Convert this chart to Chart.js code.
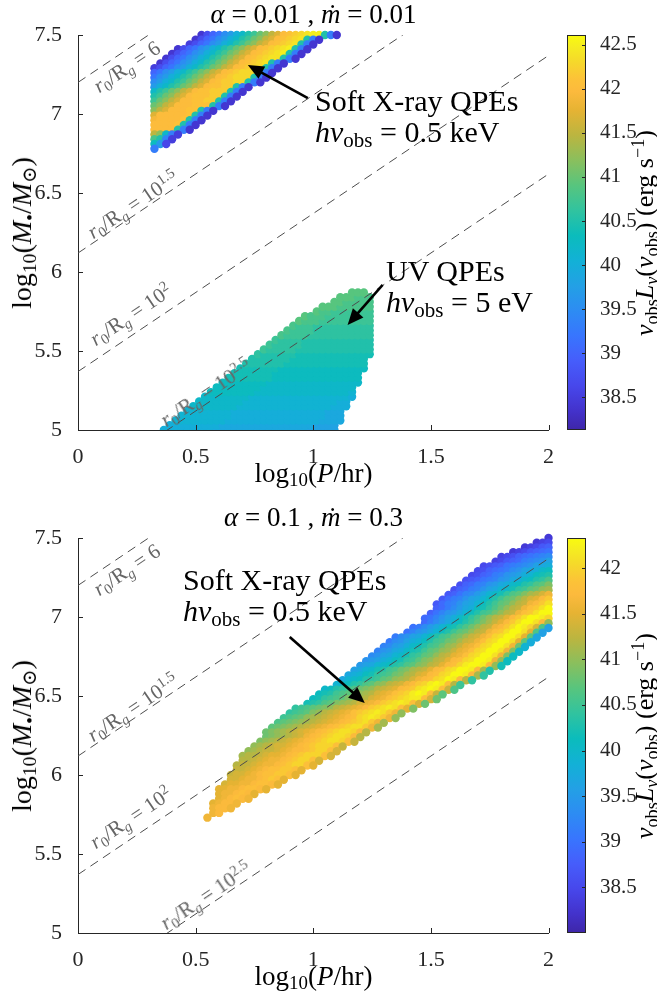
<!DOCTYPE html>
<html><head><meta charset="utf-8"><title>QPE luminosity maps</title>
<script src="https://cdn.jsdelivr.net/npm/chart.js@4.4.1/dist/chart.umd.min.js"></script>
<style>
html,body{margin:0;padding:0;background:#fff}
#wrap{position:relative;width:657px;height:1004px;overflow:hidden;font-family:"Liberation Serif","DejaVu Serif",serif;color:#262626}
#wrap canvas{position:absolute}
.tx{position:absolute;white-space:nowrap;line-height:1}
.tx sub{font-size:70%;vertical-align:-0.25em;line-height:0}
.tx sup{font-size:70%;vertical-align:0.5em;line-height:0}
.ann{font-size:30px;line-height:31px;color:#000}
.ttl{font-size:27px;color:#000}
.axl{font-size:27px;color:#000}
.ayl{font-size:28px;color:#000}
.cbl{font-size:26px;color:#000}
.rl{font-size:21px;color:#666}
</style></head>
<body><div id="wrap">
<canvas id="m1" width="560" height="500" style="left:0;top:0;width:560px;height:500px"></canvas>
<canvas id="c1" width="97" height="500" style="left:560px;top:0;width:97px;height:500px"></canvas>
<canvas id="m2" width="560" height="500" style="left:0;top:503px;width:560px;height:500px"></canvas>
<canvas id="c2" width="97" height="500" style="left:560px;top:503px;width:97px;height:500px"></canvas>
</div>
<script>
// ================= DATA =================
const xTickValues = [0, 0.5, 1, 1.5, 2];
const xTickLabels = ['0', '0.5', '1', '1.5', '2'];
const yTickValues = [5, 5.5, 6, 6.5, 7, 7.5];
const yTickLabels = ['5', '5.5', '6', '6.5', '7', '7.5'];
const cbTopTickValues = [38.5, 39, 39.5, 40, 40.5, 41, 41.5, 42, 42.5];
const cbTopTickLabels = ['38.5', '39', '39.5', '40', '40.5', '41', '41.5', '42', '42.5'];
const cbBotTickValues = [38.5, 39, 39.5, 40, 40.5, 41, 41.5, 42];
const cbBotTickLabels = ['38.5', '39', '39.5', '40', '40.5', '41', '41.5', '42'];
const cbTopRange = [38.13, 42.61];
const cbBotRange = [38.0, 42.33];
const panelTitles = ['<i>α</i> = 0.01 , <i>ṁ</i> = 0.01', '<i>α</i> = 0.1 , <i>ṁ</i> = 0.3'];

// constant r0/Rg lines: log M = log P + intercept
const rLineNames = ['6', '10^1.5', '10^2', '10^2.5'];
const rLineIntercepts = [7.20, 6.12, 5.37, 4.62];

// luminosity code: character index i -> log(nu L_nu) = 38 + 0.1*i
const LUM_CODES = '0123456789ABCDEFGHIJKLMNOPQRSTUVWXYZabcdefghijklmnopqrstuvwxyz';
const GRID_STEP_P = 0.025;   // spacing of model points along log P within a row

// --- top panel (alpha=0.01, mdot=0.01): soft X-ray QPEs ---
const xrayTopLogM = [7.50,7.47,7.44,7.41,7.38,7.35,7.32,7.29,7.26,7.23,7.20,7.17,7.14,7.11,7.08,7.05,7.02,6.99,6.96,6.93,6.90,6.87,6.84,6.81,6.78];
const xrayTopStartP = [0.525,0.500,0.475,0.425,0.400,0.375,0.350,0.325,0.325,0.325,0.325,0.325,0.325,0.325,0.325,0.325,0.325,0.325,0.325,0.325,0.325,0.325,0.325,0.325,0.325];
const xrayTopLum = [
  '47ACFHKMPRUWZbefghijjPD4',
  '47ACFHKMPRUWZbefghiPD4',
  '57ACFHKMPRUWZbefghiPD4',
  '47ACFHKMPRUWZbefghijPD4',
  '47ACFHKMPRUWZbefghijPD4',
  '47ACFHKMPRUWZbefghiiPD4',
  '47ACFHKMPRUWZbefghiPD4',
  '57ACFHKMPRUWZbefghhPD4',
  'ACFHKMPRUWZbefghhhPD4',
  'CFHKMPRUWZbefghhhPD4',
  'FHKMPRUWZbefgghhPD4',
  'HKMPRUWZbeffggPD4',
  'MPRUWZbeffgggPD4',
  'PRUWZbefffggPD4',
  'RUWZbeeffggPD4',
  'UWZbeeefffPD4',
  'WZbeeeffPD4',
  'beeeeefPD4',
  'deeeefPD4',
  'eeeefPD4',
  'eeeePD4',
  'ZWMD5',
  'SPE5',
  'NH6',
  'D'
];

// --- top panel: UV QPEs ---
const uvLogM = [5.00,5.03,5.06,5.09,5.12,5.15,5.18,5.21,5.24,5.27,5.30,5.33,5.36,5.39,5.42,5.45,5.48,5.51,5.54,5.57,5.60,5.63,5.66,5.69,5.72,5.75,5.78,5.81,5.84,5.87];
const uvStartP = [0.365,0.390,0.415,0.440,0.465,0.490,0.515,0.540,0.565,0.590,0.615,0.640,0.665,0.690,0.715,0.740,0.765,0.790,0.815,0.840,0.865,0.890,0.915,0.940,0.965,1.015,1.040,1.090,1.115,1.165];
const uvLum = [
  'KKKKKKKKKJJJJJJJJJJJJJJJJIIIII',
  'KKKKKKKKKJJJJJJJJJJJJJJJJIIII',
  'LLLLLLLLLKKKKKKKKKKKKKKKKJJJJ',
  'LLLLLLLLLKKKKKKKKKKKKKKKKJJJ',
  'LLLLLLLLKKKKKKKKKKKKKKKKJJJ',
  'MMMMMMMMLLLLLLLLLLLLLLLLKKK',
  'MMMMMMMMLLLLLLLLLLLLLLLLKK',
  'MMMMMMMMLLLLLLLLLLLLLLLLLK',
  'NNNNNNNNMMMMMMMMMMMMMMMML',
  'NNNNNNNNMMMMMMMMMMMMMMMM',
  'NNNNNNNNMMMMMMMMMMMMMMMM',
  'OOOOOOOONNNNNNNNNNNNNNN',
  'OOOOOOONNNNNNNNNNNNNNN',
  'OOOOOOONNNNNNNNNNNNNNN',
  'PPPPPPPOOOOOOOOOOOOOO',
  'PPPPPPPOOOOOOOOOOOOO',
  'QPPPPPPOOOOOOOOOOOOO',
  'RQQQQQPPPPPPPPPPPPP',
  'RQQQQQPPPPPPPPPPPP',
  'RQQQQPPPPPPPPPPPP',
  'SRRRRQQQQQQQQQQQ',
  'SRRRRQQQQQQQQQQ',
  'SRRRQQQQQQQQQQ',
  'TSSSRRRRRRRRR',
  'TSSSRRRRRRRR',
  'TSSRRRRRRR',
  'TTTSSSSSS',
  'TTSSSSS',
  'TTTSSS',
  'TTT'
];

// --- bottom panel (alpha=0.1, mdot=0.3): soft X-ray QPEs ---
const xrayBotLogM = [7.50,7.47,7.44,7.41,7.38,7.35,7.32,7.29,7.26,7.23,7.20,7.17,7.14,7.11,7.08,7.05,7.02,6.99,6.96,6.93,6.90,6.87,6.84,6.81,6.78,6.75,6.72,6.69,6.66,6.63,6.60,6.57,6.54,6.51,6.48,6.45,6.42,6.39,6.36,6.33,6.30,6.27,6.24,6.21,6.18,6.15,6.12,6.09,6.06,6.03,6.00,5.97,5.94,5.91,5.88,5.85,5.82,5.79,5.76,5.73];
const xrayBotStartP = [2.000,1.950,1.900,1.850,1.800,1.775,1.725,1.700,1.675,1.650,1.625,1.600,1.575,1.550,1.525,1.525,1.500,1.475,1.475,1.425,1.400,1.350,1.325,1.300,1.275,1.250,1.225,1.200,1.175,1.150,1.125,1.100,1.050,1.025,1.000,0.975,0.925,0.900,0.875,0.850,0.825,0.800,0.800,0.775,0.750,0.725,0.700,0.700,0.675,0.675,0.650,0.650,0.625,0.600,0.600,0.600,0.575,0.575,0.575,0.550];
const xrayBotLum = [
  '3',
  '345',
  '34578',
  '345789A',
  '45689ABCD',
  '45789BCDEG',
  '5678ABCDEGHI',
  '5689ABDEGHIKL',
  '5689BCEFGIJLMN',
  '678ABCEFHIKLNOQ',
  '689BCEFHIKLNOQRT',
  '689BCEGHJKMOPRSUV',
  '78ACDFHJKMOQRTVWYa',
  '79BCEGHJLNPRSUWYZbd',
  '79BCEGHJLNPRSUWXabdf',
  '89BDFHILMOQSUWXacdfh',
  '8ACEFHJLNPQSUWXacdfhh',
  '9ACEGIKMOQSUWXZbdfhhge',
  '9BDFHJLNPRTVXZbdfhhfbU',
  'ABDFHJLMOQSUWXabdfhgeYQG',
  'ACEFHJLNPRSUWXacdfhhfZQG',
  'BDEGHJLNPQSTVXYacefhhfZRH',
  'BDEGIJLNPQSTVXYacefhhfZRI',
  'CDFGIKLNPQSUVXZacefhhfaSJ',
  'CEFHIKMNPRSUVXZacefhhfaTK',
  'DEGHJKMOPRSUWXZacefhhfaTL',
  'EFGIJLMOPRTUWXZbcefhhgaUL',
  'FGHJKLNOQRTUWXZbceghhgbUM',
  'GHJKMNPQSTVWXZbcefhhgbVN',
  'HIJLMOPQSTVWYZbcefhhgbVO',
  'HJKLNOPRSUVWYabcefhgbWO',
  'JKLNOQRTUWXYabdeghgcWP',
  'KLNOPQSTUWXYZbcdfghgcXQ',
  'LMNPQRSUVWYZacdeghgcXR',
  'LMOPQRTUVWYZacdefggcYS',
  'MNOQRTUVWYZabdefgfcYS',
  'OPQRSTUWXYZabdefgfcZT',
  'OPQRTUWXYZacdefgfdaU',
  'PQRSUVWXYZabcefgfdaU',
  'QRSTUVWXYZabcdefdaV',
  'RSTUVWXYZabcdeffdaV',
  'STUVWXYZabcdeffebW',
  'STUVWXYabcdeffebW',
  'TUVWXYZabcdeffecX',
  'UVWXYYZabcdeeecX',
  'UVWXXYZabbcdeecY',
  'VWWXYZZabcdeeecY',
  'WWXYZaabcdeecY',
  'WXXYZaabcdeecZ',
  'XXYZabccddcZ',
  'XYYZabccddcZ',
  'YYZaabcdcZ',
  'YZZaabccbZ',
  'ZZaabccbZ',
  'ZaabcbZ',
  'Zabcba',
  'Zabba',
  'abba',
  'ab',
  'a'
];

// ================= LAYOUT / STYLE =================
const FONT = '"Liberation Serif", "DejaVu Serif", serif';
const AXIS_COLOR = '#262626';
const PANEL_OFFSET = 503;
// annotation arrows in data coords [tailP, tailM, headP, headM]
const arrowsTop = [[0.977, 7.101, 0.722, 7.31], [1.295, 5.918, 1.146, 5.665]];
const arrowsBot = [[0.90, 6.873, 1.219, 6.456]];
// centre of each r0/Rg label in data coords
const rLabelPos = [[0.208, 7.30], [0.233, 6.424], [0.225, 5.728], [0.543, 5.234]];

// parula colormap stops
const PARULA = [
  [0.000, [62, 38, 168]], [0.048, [67, 50, 203]], [0.111, [71, 71, 235]], [0.175, [70, 93, 251]],
  [0.238, [56, 117, 254]], [0.302, [45, 140, 243]], [0.365, [35, 160, 229]], [0.429, [18, 177, 214]],
  [0.492, [11, 188, 188]], [0.556, [49, 195, 159]], [0.619, [87, 197, 126]], [0.683, [138, 191, 93]],
  [0.746, [187, 181, 64]], [0.810, [230, 179, 51]], [0.857, [252, 186, 61]], [0.889, [252, 194, 56]],
  [0.937, [245, 219, 41]], [0.968, [245, 235, 33]], [1.000, [249, 251, 14]]
];
function cmapColor(L, lo, hi) {
  let t = (L - lo) / (hi - lo);
  t = Math.max(0, Math.min(1, t));
  for (let i = 1; i < PARULA.length; i++) {
    if (t <= PARULA[i][0]) {
      const [t0, c0] = PARULA[i - 1], [t1, c1] = PARULA[i];
      const f = (t - t0) / (t1 - t0);
      return 'rgb(' + [0, 1, 2].map(k => Math.round(c0[k] + (c1[k] - c0[k]) * f)).join(',') + ')';
    }
  }
  return 'rgb(249,251,14)';
}

function expandRows(ms, p0s, codes) {
  const pts = [];
  ms.forEach((m, i) => {
    const s = codes[i];
    for (let k = 0; k < s.length; k++) {
      pts.push({ x: +(p0s[i] + k * GRID_STEP_P).toFixed(4), y: m, L: 38 + 0.1 * LUM_CODES.indexOf(s[k]) });
    }
  });
  return pts;
}

function scatterDataset(pts, range) {
  return {
    type: 'scatter', data: pts,
    pointRadius: 4.2, pointHoverRadius: 4.2, pointBorderWidth: 0, borderWidth: 0,
    pointBackgroundColor: c => (c.raw ? cmapColor(c.raw.L, range[0], range[1]) : '#000'),
    pointBorderColor: 'rgba(0,0,0,0)',
    clip: { left: 0, top: 5, right: 5, bottom: 0 }
  };
}
function lineDatasets() {
  return rLineIntercepts.map(c => ({
    type: 'line', data: [{ x: 0, y: c }, { x: 2, y: c + 2 }],
    borderColor: '#4d4d4d', borderWidth: 1, borderDash: [9, 6],
    pointRadius: 0, fill: false, tension: 0, clip: 0
  }));
}

const axisDecor = {
  id: 'axisDecor',
  afterDraw(chart) {
    const { ctx, chartArea: a, scales: { x, y } } = chart;
    ctx.save();
    ctx.strokeStyle = AXIS_COLOR; ctx.lineWidth = 1;
    ctx.beginPath();
    xTickValues.forEach(v => { const px = Math.round(x.getPixelForValue(v)) + 0.5; ctx.moveTo(px, a.bottom); ctx.lineTo(px, a.bottom - 5); });
    yTickValues.forEach(v => { const py = Math.round(y.getPixelForValue(v)) + 0.5; ctx.moveTo(a.left, py); ctx.lineTo(a.left + 5, py); });
    ctx.stroke();
    ctx.restore();
  }
};
function arrowPlugin(arrows) {
  return {
    id: 'arrows',
    afterDatasetsDraw(chart) {
      const { ctx, scales: { x, y } } = chart;
      ctx.save();
      ctx.strokeStyle = '#000'; ctx.fillStyle = '#000'; ctx.lineWidth = 2.6; ctx.lineCap = 'butt';
      arrows.forEach(a => {
        const x0 = x.getPixelForValue(a[0]), y0 = y.getPixelForValue(a[1]);
        const x1 = x.getPixelForValue(a[2]), y1 = y.getPixelForValue(a[3]);
        const ang = Math.atan2(y1 - y0, x1 - x0), hl = 16, hw = 7;
        const bx = x1 - hl * Math.cos(ang), by = y1 - hl * Math.sin(ang);
        ctx.beginPath(); ctx.moveTo(x0, y0); ctx.lineTo(bx + 2 * Math.cos(ang), by + 2 * Math.sin(ang)); ctx.stroke();
        ctx.beginPath();
        ctx.moveTo(x1, y1);
        ctx.lineTo(bx + hw * Math.sin(ang), by - hw * Math.cos(ang));
        ctx.lineTo(bx - hw * Math.sin(ang), by + hw * Math.cos(ang));
        ctx.closePath(); ctx.fill();
      });
      ctx.restore();
    }
  };
}

function makeMain(id, scatterSets, arrows) {
  const tickFont = { family: FONT, size: 22 };
  return new Chart(document.getElementById(id), {
    data: { datasets: [...lineDatasets(), ...scatterSets] },
    options: {
      responsive: false, animation: false, events: [],
      layout: { padding: { top: 35, right: 11, left: 0, bottom: 0 } },
      plugins: { legend: { display: false }, tooltip: { enabled: false } },
      scales: {
        x: {
          type: 'linear', min: 0, max: 2,
          afterBuildTicks: s => { s.ticks = xTickValues.map(v => ({ value: v })); },
          afterFit: s => { s.height = 70; },
          ticks: { font: tickFont, color: AXIS_COLOR, padding: 6, maxRotation: 0, autoSkip: false, callback: (v, i) => xTickLabels[i] },
          grid: { display: false }, border: { display: true, color: AXIS_COLOR, width: 1 }
        },
        y: {
          type: 'linear', min: 5, max: 7.5,
          afterBuildTicks: s => { s.ticks = yTickValues.map(v => ({ value: v })); },
          afterFit: s => { s.width = 78; },
          ticks: { font: tickFont, color: AXIS_COLOR, padding: 8, autoSkip: false, callback: (v, i) => yTickLabels[i] },
          grid: { display: false }, border: { display: true, color: AXIS_COLOR, width: 1 }
        }
      }
    },
    plugins: [axisDecor, arrowPlugin(arrows)]
  });
}

function makeColorbar(id, range, tickVals, tickLabels) {
  const frame = {
    id: 'cbFrame',
    afterDraw(chart) {
      const { ctx, chartArea: a, scales: { y } } = chart;
      ctx.save();
      ctx.strokeStyle = AXIS_COLOR; ctx.lineWidth = 1;
      ctx.strokeRect(a.left + 0.5, a.top + 0.5, a.right - a.left - 1, a.bottom - a.top - 1);
      ctx.beginPath();
      tickVals.forEach(v => { const py = Math.round(y.getPixelForValue(v)) + 0.5; ctx.moveTo(a.right, py); ctx.lineTo(a.right - 4, py); });
      ctx.stroke();
      ctx.restore();
    }
  };
  return new Chart(document.getElementById(id), {
    type: 'bar',
    data: {
      labels: ['cb'],
      datasets: [{
        data: [[range[0], range[1]]],
        backgroundColor: c => {
          const ch = c.chart, a = ch.chartArea;
          if (!a) return '#888';
          const g = ch.ctx.createLinearGradient(0, a.bottom, 0, a.top);
          PARULA.forEach(([t, col]) => g.addColorStop(t, 'rgb(' + col.join(',') + ')'));
          return g;
        },
        borderWidth: 0, barPercentage: 1, categoryPercentage: 1
      }]
    },
    options: {
      responsive: false, animation: false, events: [],
      layout: { padding: { top: 35, bottom: 70, left: 7, right: 0 } },
      plugins: { legend: { display: false }, tooltip: { enabled: false } },
      scales: {
        x: { display: false },
        y: {
          position: 'right', min: range[0], max: range[1],
          afterBuildTicks: s => { s.ticks = tickVals.map(v => ({ value: v })); },
          afterFit: s => { s.width = 71; },
          ticks: { font: { family: FONT, size: 21 }, color: AXIS_COLOR, padding: 6, autoSkip: false, callback: (v, i) => tickLabels[i] },
          grid: { display: false }, border: { display: false }
        }
      }
    },
    plugins: [frame]
  });
}

// ---------- text helpers ----------
const wrap = document.getElementById('wrap');
function addText(html, cls, x, y, rot, centered) {
  const d = document.createElement('div');
  d.className = 'tx ' + cls;
  d.innerHTML = html;
  d.style.left = x + 'px';
  d.style.top = y + 'px';
  if (centered) d.style.transform = 'translate(-50%,-50%)' + (rot ? ' rotate(' + rot + 'deg)' : '');
  wrap.appendChild(d);
  return d;
}
function rLabelHtml(name) {
  const parts = name.split('^');
  return '<i>r</i><sub>0</sub>/R<sub><i>g</i></sub> = ' + parts[0] + (parts[1] ? '<sup>' + parts[1] + '</sup>' : '');
}
function addLineLabels(chart, top) {
  const { x, y } = chart.scales;
  const ang = -Math.atan2(y.getPixelForValue(5) - y.getPixelForValue(6), x.getPixelForValue(1) - x.getPixelForValue(0)) * 180 / Math.PI;
  rLineNames.forEach((n, i) => {
    addText(rLabelHtml(n), 'rl', x.getPixelForValue(rLabelPos[i][0]), top + y.getPixelForValue(rLabelPos[i][1]), ang, true);
  });
}

// ---------- build ----------
const topSets = [
  scatterDataset(expandRows(xrayTopLogM, xrayTopStartP, xrayTopLum), cbTopRange),
  scatterDataset(expandRows(uvLogM, uvStartP, uvLum), cbTopRange)
];
const botSets = [scatterDataset(expandRows(xrayBotLogM, xrayBotStartP, xrayBotLum), cbBotRange)];

const m1 = makeMain('m1', topSets, arrowsTop);
const m2 = makeMain('m2', botSets, arrowsBot);
makeColorbar('c1', cbTopRange, cbTopTickValues, cbTopTickLabels);
makeColorbar('c2', cbBotRange, cbBotTickValues, cbBotTickLabels);

[0, PANEL_OFFSET].forEach((off, p) => {
  addText(panelTitles[p], 'ttl', 313.5, off + 14, 0, true);
  addText('log<sub>10</sub>(<i>P</i>/hr)', 'axl', 313.5, off + 473, 0, true);
  addText('log<sub>10</sub>(<i>M</i><sub>•</sub>/<i>M</i><sub>⊙</sub>)', 'ayl', 22, off + 232.5, -90, true);
  addText('<i>ν</i><sub>obs</sub><i>L</i><sub><i>ν</i></sub>(<i>ν</i><sub>obs</sub>) (erg s<sup>−1</sup>)', 'cbl', 645, off + 232.5, -90, true);
});
addLineLabels(m1, 0);
addLineLabels(m2, PANEL_OFFSET);
addText('Soft X-ray QPEs<br><i>hν</i><sub>obs</sub> = 0.5 keV', 'ann', 315, 85, 0, false);
addText('UV QPEs<br><i>hν</i><sub>obs</sub> = 5 eV', 'ann', 386, 255, 0, false);
addText('Soft X-ray QPEs<br><i>hν</i><sub>obs</sub> = 0.5 keV', 'ann', 183, 564, 0, false);
</script></body></html>
